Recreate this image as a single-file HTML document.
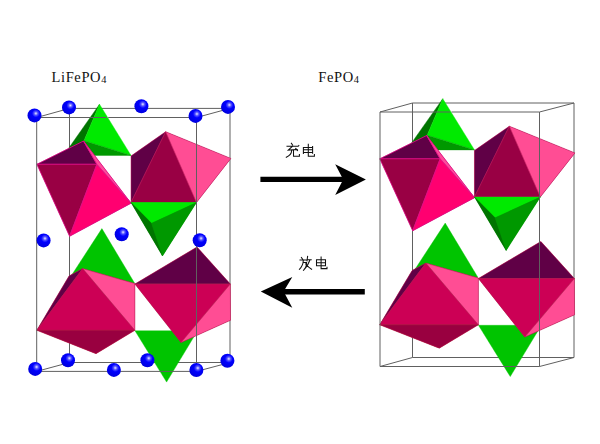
<!DOCTYPE html>
<html><head><meta charset="utf-8">
<style>
html,body{margin:0;padding:0;background:#fff;width:600px;height:444px;overflow:hidden}
svg{display:block}
</style></head><body>
<svg width="600" height="444" viewBox="0 0 600 444">
<defs>
<radialGradient id="ball" cx="0.6" cy="0.36" r="0.62">
<stop offset="0" stop-color="#e8e8ff"/>
<stop offset="0.22" stop-color="#5050ff"/>
<stop offset="0.45" stop-color="#0000ff"/>
<stop offset="1" stop-color="#0000e0"/>
</radialGradient>
<g id="poly" stroke-linejoin="round">
<polygon points="99.5,104.2 66,152 84,140.7" fill="#007400" stroke="#007400" stroke-width="0.4"/>
<polygon points="99.5,104.2 84,140.7 131,155.4" fill="#00ea00" stroke="#00ea00" stroke-width="0.4"/>
<polygon points="84,140.7 131,155.4 84,155.4" fill="#009800" stroke="#009800" stroke-width="0.4"/>
<polygon points="83.5,141 36.9,164.3 69.6,236.3 131.1,203.2" fill="#990044"/>
<polygon points="83.5,141 36.9,164.3 96.9,164.3" fill="#600046" stroke="#e0108a" stroke-width="0.8"/>
<polygon points="36.9,164.3 96.9,164.3 69.6,236.3" fill="#990044" stroke="#e0108a" stroke-width="0.8"/>
<polygon points="96.9,164.3 131.1,203.2 69.6,236.3" fill="#ff0070" stroke="#e0108a" stroke-width="0.8"/>
<polygon points="83.5,141 131.1,203.2 96.9,164.3" fill="#ff4a9a" stroke="#e0108a" stroke-width="0.8"/>
<polygon points="165.7,131.7 131,156 131,202.5 196.5,202.5 230.9,158.4" fill="#990044"/>
<polygon points="165.7,131.7 131,156 131,202.5" fill="#600046" stroke="#c02060" stroke-width="0.5"/>
<polygon points="165.7,131.7 131,202.5 196.5,202.5" fill="#990044" stroke="#c02060" stroke-width="0.5"/>
<polygon points="165.7,131.7 196.5,202.5 230.9,158.4" fill="#ff4d94" stroke="#c02060" stroke-width="0.5"/>
<polygon points="131,202.5 196.5,202.5 162.5,256" fill="#009800"/>
<polygon points="131,202.5 196.5,202.5 151.5,223.3" fill="#00ea00" stroke="#00ea00" stroke-width="0.4"/>
<polygon points="131,202.5 151.5,223.3 162.5,256" fill="#007400" stroke="#007400" stroke-width="0.4"/>
<polygon points="151.5,223.3 196.5,202.5 162.5,256" fill="#009800" stroke="#009800" stroke-width="0.4"/>
<polygon points="101.9,228.6 62,290 134.5,283" fill="#00c400" stroke="#00c400" stroke-width="0.4"/>
<polygon points="82.7,268.6 69,276 36.8,330.3 96,353.7 134.9,330.3 134.9,283.5" fill="#cc0055"/>
<polygon points="82.7,268.6 69,276 36.8,330.3" fill="#600046" stroke="#b02050" stroke-width="0.5"/>
<polygon points="82.7,268.6 36.8,330.3 134.9,330.3" fill="#cc0055" stroke="#b02050" stroke-width="0.5"/>
<polygon points="82.7,268.6 134.9,283.5 134.9,330.3" fill="#ff4d94" stroke="#b02050" stroke-width="0.5"/>
<polygon points="36.8,330.3 134.9,330.3 96,353.7" fill="#990040" stroke="#b02040" stroke-width="0.5"/>
<polygon points="135,330.8 197.5,330.8 166.6,382.1" fill="#00c400" stroke="#00c400" stroke-width="0.4"/>
<polygon points="197,247 134.9,284 181,342.6 230.5,320.3 230.3,284" fill="#cc0055"/>
<polygon points="197,247 134.9,284 230.3,284" fill="#600046" stroke="#b02050" stroke-width="0.5"/>
<polygon points="134.9,284 230.3,284 181,342.6" fill="#cc0055" stroke="#b02050" stroke-width="0.5"/>
<polygon points="230.3,284 230.5,320.3 181,342.6" fill="#ff4d94" stroke="#b02050" stroke-width="0.5"/>
</g>
</defs>
<g fill="none" stroke="#606060" stroke-width="1"><path d="M69.5 108.4H230.0M69.5 108.4V362.5M230.0 108.4V362.5M69.5 362.5H230.0M36.7 117.5L69.5 108.4M196.5 117.5L230.0 108.4M36.7 371.4L69.5 362.5M196.5 371.4L230.0 362.5"/><path d="M412.5 103.0H574.0M412.5 103.0V357.5M574.0 103.0V357.5M412.5 357.5H574.0M380.0 112.0L412.5 103.0M539.5 112.0L574.0 103.0M380.0 366.5L412.5 357.5M539.5 366.5L574.0 357.5"/></g>
<use href="#poly"/>
<use href="#poly" transform="translate(379.5,-5.5) scale(1.006,1) translate(-36.6,0)"/>
<g fill="none" stroke="#606060" stroke-width="1"><path d="M36.7 117.5H106.6M108.2 117.5H196.5M36.7 117.5V371.4M196.5 117.5V371.4M36.7 371.4H196.5"/><path d="M380.0 112.0H449.9M451.5 112.0H539.5M380.0 112.0V366.5M539.5 112.0V366.5M380.0 366.5H539.5"/></g>
<g fill="url(#ball)">
<circle cx="34.5" cy="115.4" r="7"/><circle cx="69" cy="107.4" r="7"/><circle cx="141.4" cy="106.2" r="7"/><circle cx="195.5" cy="115.9" r="7"/><circle cx="228" cy="106.9" r="7"/><circle cx="43.6" cy="240.4" r="7"/><circle cx="121.7" cy="234.2" r="7"/><circle cx="199.7" cy="240.3" r="7"/><circle cx="35.2" cy="368.9" r="7"/><circle cx="68" cy="360.2" r="7"/><circle cx="113.9" cy="369.9" r="7"/><circle cx="147.4" cy="360.2" r="7"/><circle cx="196.4" cy="370" r="7"/><circle cx="227.4" cy="360.8" r="7"/>
</g>
<path d="M260.4 176.7H344V182.1H260.4Z" fill="#000"/><path d="M335.2 164.2L365.9 179.4L335.2 195L343.2 179.4Z" fill="#000"/>
<path d="M364.8 289H280V294.4H364.8Z" fill="#000"/><path d="M260.8 291.6L292.3 277.1L283.6 291.6L292.3 307.8Z" fill="#000"/>
<g fill="none" stroke="#111" stroke-width="1.05" stroke-linecap="square" stroke-linejoin="miter">
<path d="M291.4 143.3L292.6 145M287 146.3H298.2L298.8 145.6M292.1 146.6L288.3 150.1L297.3 149.6M295.7 148.4L297.5 150.6M291.6 150.6Q291.6 155 286.3 157.3M293.5 150.6V156.2H299.4V154.4"/>
<path d="M303.4 147.4H312.6V152.4H303.4ZM303.4 153.5V147.4M303.4 149.8H312.6M312.6 146.4V153.2M308.3 144.3V156.2H314.4V154.5"/>
<path d="M301.4 257.5L302.7 259.2M300 259.9H306.8M303.3 260.2Q303.2 265.5 299.4 269.3M303.9 262.5H306.6Q306.3 267.5 304.3 269.2M307.6 256.4L307 260.8M307.3 259.7H311.2M309.7 260.5Q307.8 266.3 303.5 270.3M305.6 263.9Q308.5 267.5 311.6 269.3"/>
<path d="M316.5 259.8H325.5V265.8H316.5ZM316.5 262.8H325.5M321.1 257V268.6H327V267.2"/>
</g>
<text x="51.6" y="82.3" font-family="Liberation Serif" font-size="14.5" letter-spacing="0.6" fill="#111">LiFePO<tspan font-size="10.4" dy="0.9">4</tspan></text>
<text x="318.3" y="82.4" font-family="Liberation Serif" font-size="14.5" letter-spacing="0.6" fill="#111">FePO<tspan font-size="10.4" dy="0.9">4</tspan></text>
</svg>
</body></html>
